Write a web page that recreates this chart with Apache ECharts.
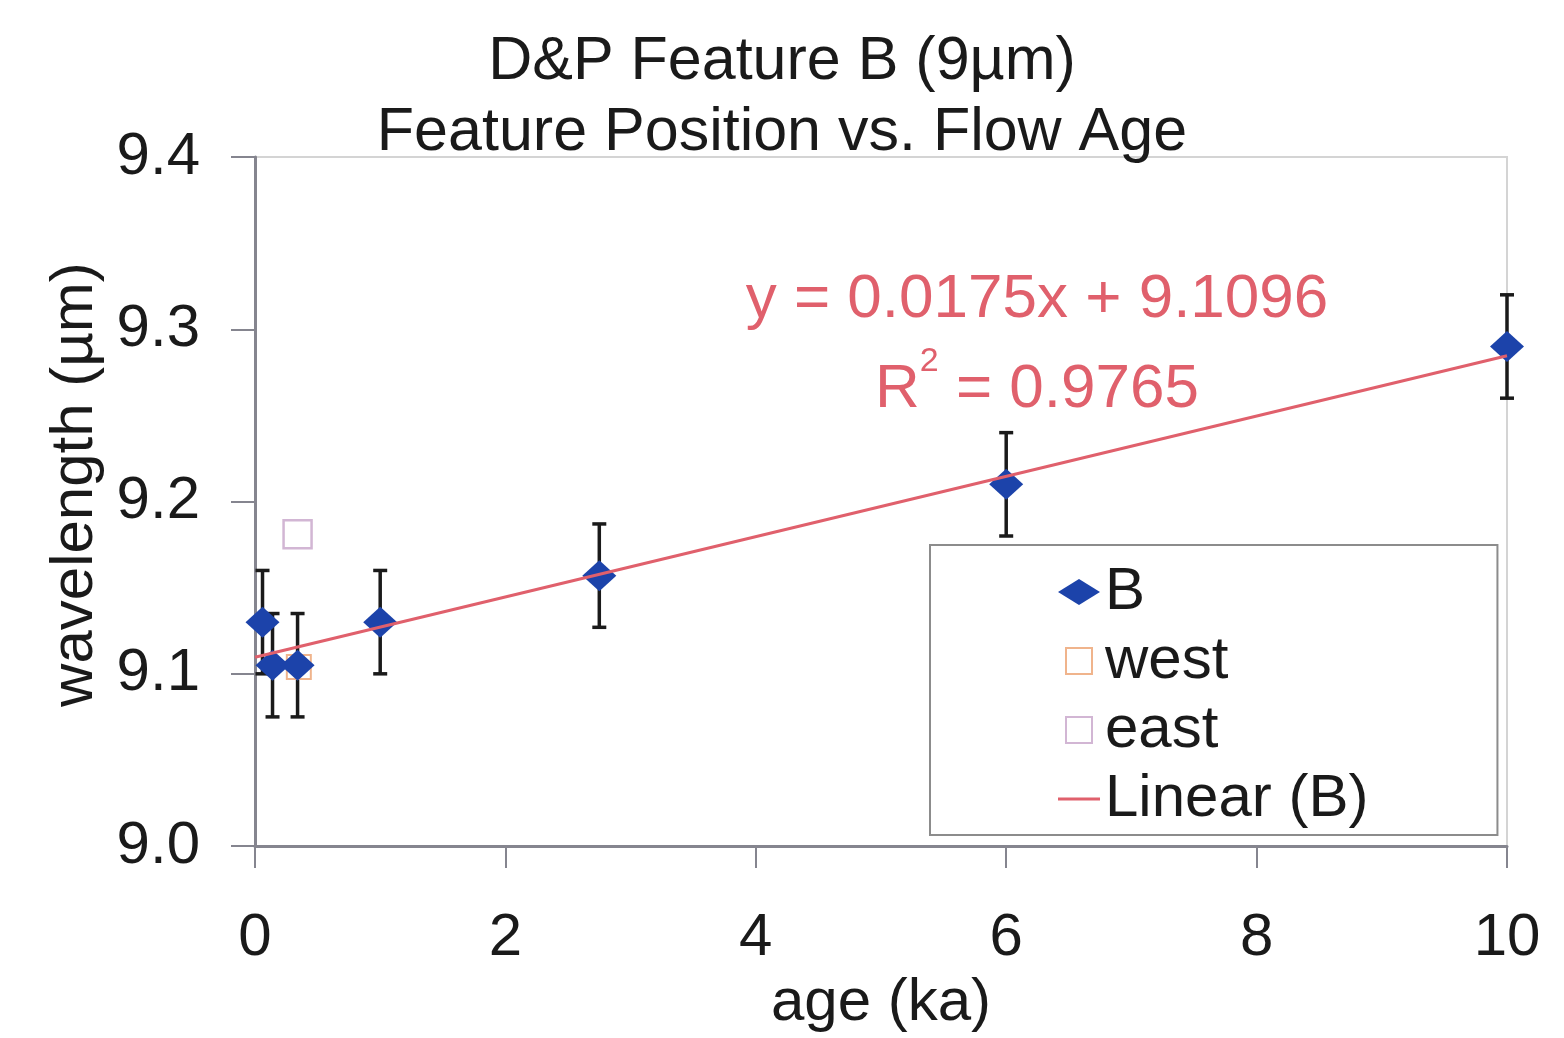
<!DOCTYPE html>
<html>
<head>
<meta charset="utf-8">
<script src="https://cdn.jsdelivr.net/npm/echarts@6/dist/echarts.min.js"></script>
<style>
html,body{margin:0;padding:0;background:#fff;}
#chart{width:1564px;height:1038px;}
</style>
</head>
<body>
<div id="chart"></div>
<script>
// ---- data ----
const titleLines = ['D&P Feature B (9µm)', 'Feature Position vs. Flow Age'];
const xAxisName = 'age (ka)';
const yAxisName = 'wavelength (µm)';

const ageB = [0.06, 0.14, 0.34, 1.0, 2.75, 6.0, 10.0];
const wavelengthB = [9.13, 9.105, 9.105, 9.13, 9.157, 9.21, 9.29];
const errorB = [0.03, 0.03, 0.03, 0.03, 0.03, 0.03, 0.03];

const ageWest = [0.35];
const wavelengthWest = [9.104];
const ageEast = [0.34];
const wavelengthEast = [9.181];

// Linear trendline (as printed on chart)
const trendSlope = 0.0175;
const trendIntercept = 9.1096;
const trendR2 = '0.9765';
const trendRange = [0, 10];

const xTicks = { min: 0, max: 10, interval: 2 };
const yTicks = { min: 9.0, max: 9.4, interval: 0.1 };

const legendNames = ['B', 'west', 'east', 'Linear (B)'];

// ---- build chart ----
const FONT = 'Liberation Sans, Arial, sans-serif';
const TXT = '#1a1a1a';
const BLUE = '#1c43aa';
const RED = '#e0606c';
const WEST = '#f0b48c';
const EAST = '#d2b6d4';
const SQUARE = 'path://M0,0 L10,0 L10,10 L0,10 Z';

const chart = echarts.init(document.getElementById('chart'), null, { renderer: 'canvas' });

const bPoints = ageB.map((x, i) => [x, wavelengthB[i]]);
const errData = ageB.map((x, i) => [x, wavelengthB[i] - errorB[i], wavelengthB[i] + errorB[i]]);
const westPoints = ageWest.map((x, i) => [x, wavelengthWest[i]]);
const eastPoints = ageEast.map((x, i) => [x, wavelengthEast[i]]);
const trendPoints = trendRange.map(x => [x, trendIntercept + trendSlope * x]);

const option = {
  backgroundColor: '#ffffff',
  animation: false,
  textStyle: { fontFamily: FONT },
  title: [
    {
      text: titleLines.join('\n'),
      left: 'center',
      top: 22,
      textStyle: { fontFamily: FONT, fontSize: 61, fontWeight: 'normal', color: TXT, lineHeight: 71 }
    },
    {
      text: 'y = ' + trendSlope + 'x + ' + trendIntercept + '\nR{sup|2} = ' + trendR2,
      left: 1032,
      top: 250,
      textAlign: 'center',
      textStyle: {
        fontFamily: FONT, fontSize: 62, fontWeight: 'normal', color: RED, lineHeight: 90,
        rich: {
          sup: { fontFamily: FONT, fontSize: 34, color: RED, verticalAlign: 'top', lineHeight: 34 }
        }
      }
    }
  ],
  grid: {
    left: 255, right: 57, top: 157, bottom: 191,
    show: true, borderColor: '#d4d4d4', borderWidth: 2, backgroundColor: 'transparent'
  },
  xAxis: {
    type: 'value',
    min: xTicks.min, max: xTicks.max, interval: xTicks.interval,
    name: xAxisName, nameLocation: 'middle', nameGap: 104,
    nameTextStyle: { fontFamily: FONT, fontSize: 60, color: TXT },
    axisLine: { show: true, onZero: false, lineStyle: { color: '#85858f', width: 3 } },
    axisTick: { show: true, inside: false, length: 22, lineStyle: { color: '#85858f', width: 2 } },
    axisLabel: { fontFamily: FONT, fontSize: 60, color: TXT, margin: 62 },
    splitLine: { show: false }
  },
  yAxis: {
    type: 'value',
    min: yTicks.min, max: yTicks.max, interval: yTicks.interval,
    name: yAxisName, nameLocation: 'middle', nameGap: 146, nameRotate: 90,
    nameTextStyle: { fontFamily: FONT, fontSize: 60, color: TXT, padding: [0, 0, 0, 34] },
    axisLine: { show: true, onZero: false, lineStyle: { color: '#85858f', width: 3 } },
    axisTick: { show: true, inside: false, length: 24, lineStyle: { color: '#85858f', width: 2 } },
    axisLabel: { fontFamily: FONT, fontSize: 60, color: TXT, margin: 55, formatter: v => v.toFixed(1) },
    splitLine: { show: false }
  },
  legend: {
    orient: 'vertical',
    left: 930, top: 545,
    padding: [17, 129, 6, 128],
    itemGap: 9,
    itemWidth: 42, itemHeight: 26,
    borderColor: '#8c8c8c', borderWidth: 2,
    backgroundColor: '#ffffff',
    textStyle: { fontFamily: FONT, fontSize: 60, color: TXT, lineHeight: 60 },
    data: [
      { name: legendNames[0], icon: 'diamond', itemStyle: { color: BLUE, opacity: 1 } },
      { name: legendNames[1], icon: SQUARE, itemStyle: { color: '#ffffff', borderColor: WEST, borderWidth: 2 } },
      { name: legendNames[2], icon: SQUARE, itemStyle: { color: '#ffffff', borderColor: EAST, borderWidth: 2 } },
      { name: legendNames[3], icon: 'path://M0,0 L42,0 L42,3 L0,3 Z', itemStyle: { color: RED, borderWidth: 0 } }
    ]
  },
  series: [
    {
      name: legendNames[1], type: 'scatter', data: westPoints,
      symbol: 'rect', symbolSize: 24,
      itemStyle: { color: '#ffffff', borderColor: WEST, borderWidth: 2, opacity: 1 }
    },
    {
      name: 'error', type: 'custom', data: errData,
      renderItem: function (params, api) {
        const x = api.value(0);
        const pLo = api.coord([x, api.value(1)]);
        const pHi = api.coord([x, api.value(2)]);
        const cap = 7;
        const st = { stroke: '#1a1a1a', lineWidth: 3.5 };
        return {
          type: 'group',
          children: [
            { type: 'line', shape: { x1: pLo[0], y1: pLo[1], x2: pHi[0], y2: pHi[1] }, style: st },
            { type: 'line', shape: { x1: pHi[0] - cap, y1: pHi[1], x2: pHi[0] + cap, y2: pHi[1] }, style: st },
            { type: 'line', shape: { x1: pLo[0] - cap, y1: pLo[1], x2: pLo[0] + cap, y2: pLo[1] }, style: st }
          ]
        };
      },
      encode: { x: 0, y: [1, 2] },
      silent: true
    },
    {
      name: legendNames[3], type: 'line', data: trendPoints,
      symbol: 'none', color: RED,
      lineStyle: { color: RED, width: 3 }
    },
    {
      name: legendNames[0], type: 'scatter', data: bPoints,
      symbol: 'diamond', symbolSize: [34, 31],
      itemStyle: { color: BLUE, opacity: 1 }
    },
    {
      name: legendNames[2], type: 'scatter', data: eastPoints,
      symbol: 'rect', symbolSize: 28,
      itemStyle: { color: '#ffffff', borderColor: EAST, borderWidth: 2.5, opacity: 1 }
    }
  ]
};

chart.setOption(option);
</script>
</body>
</html>
